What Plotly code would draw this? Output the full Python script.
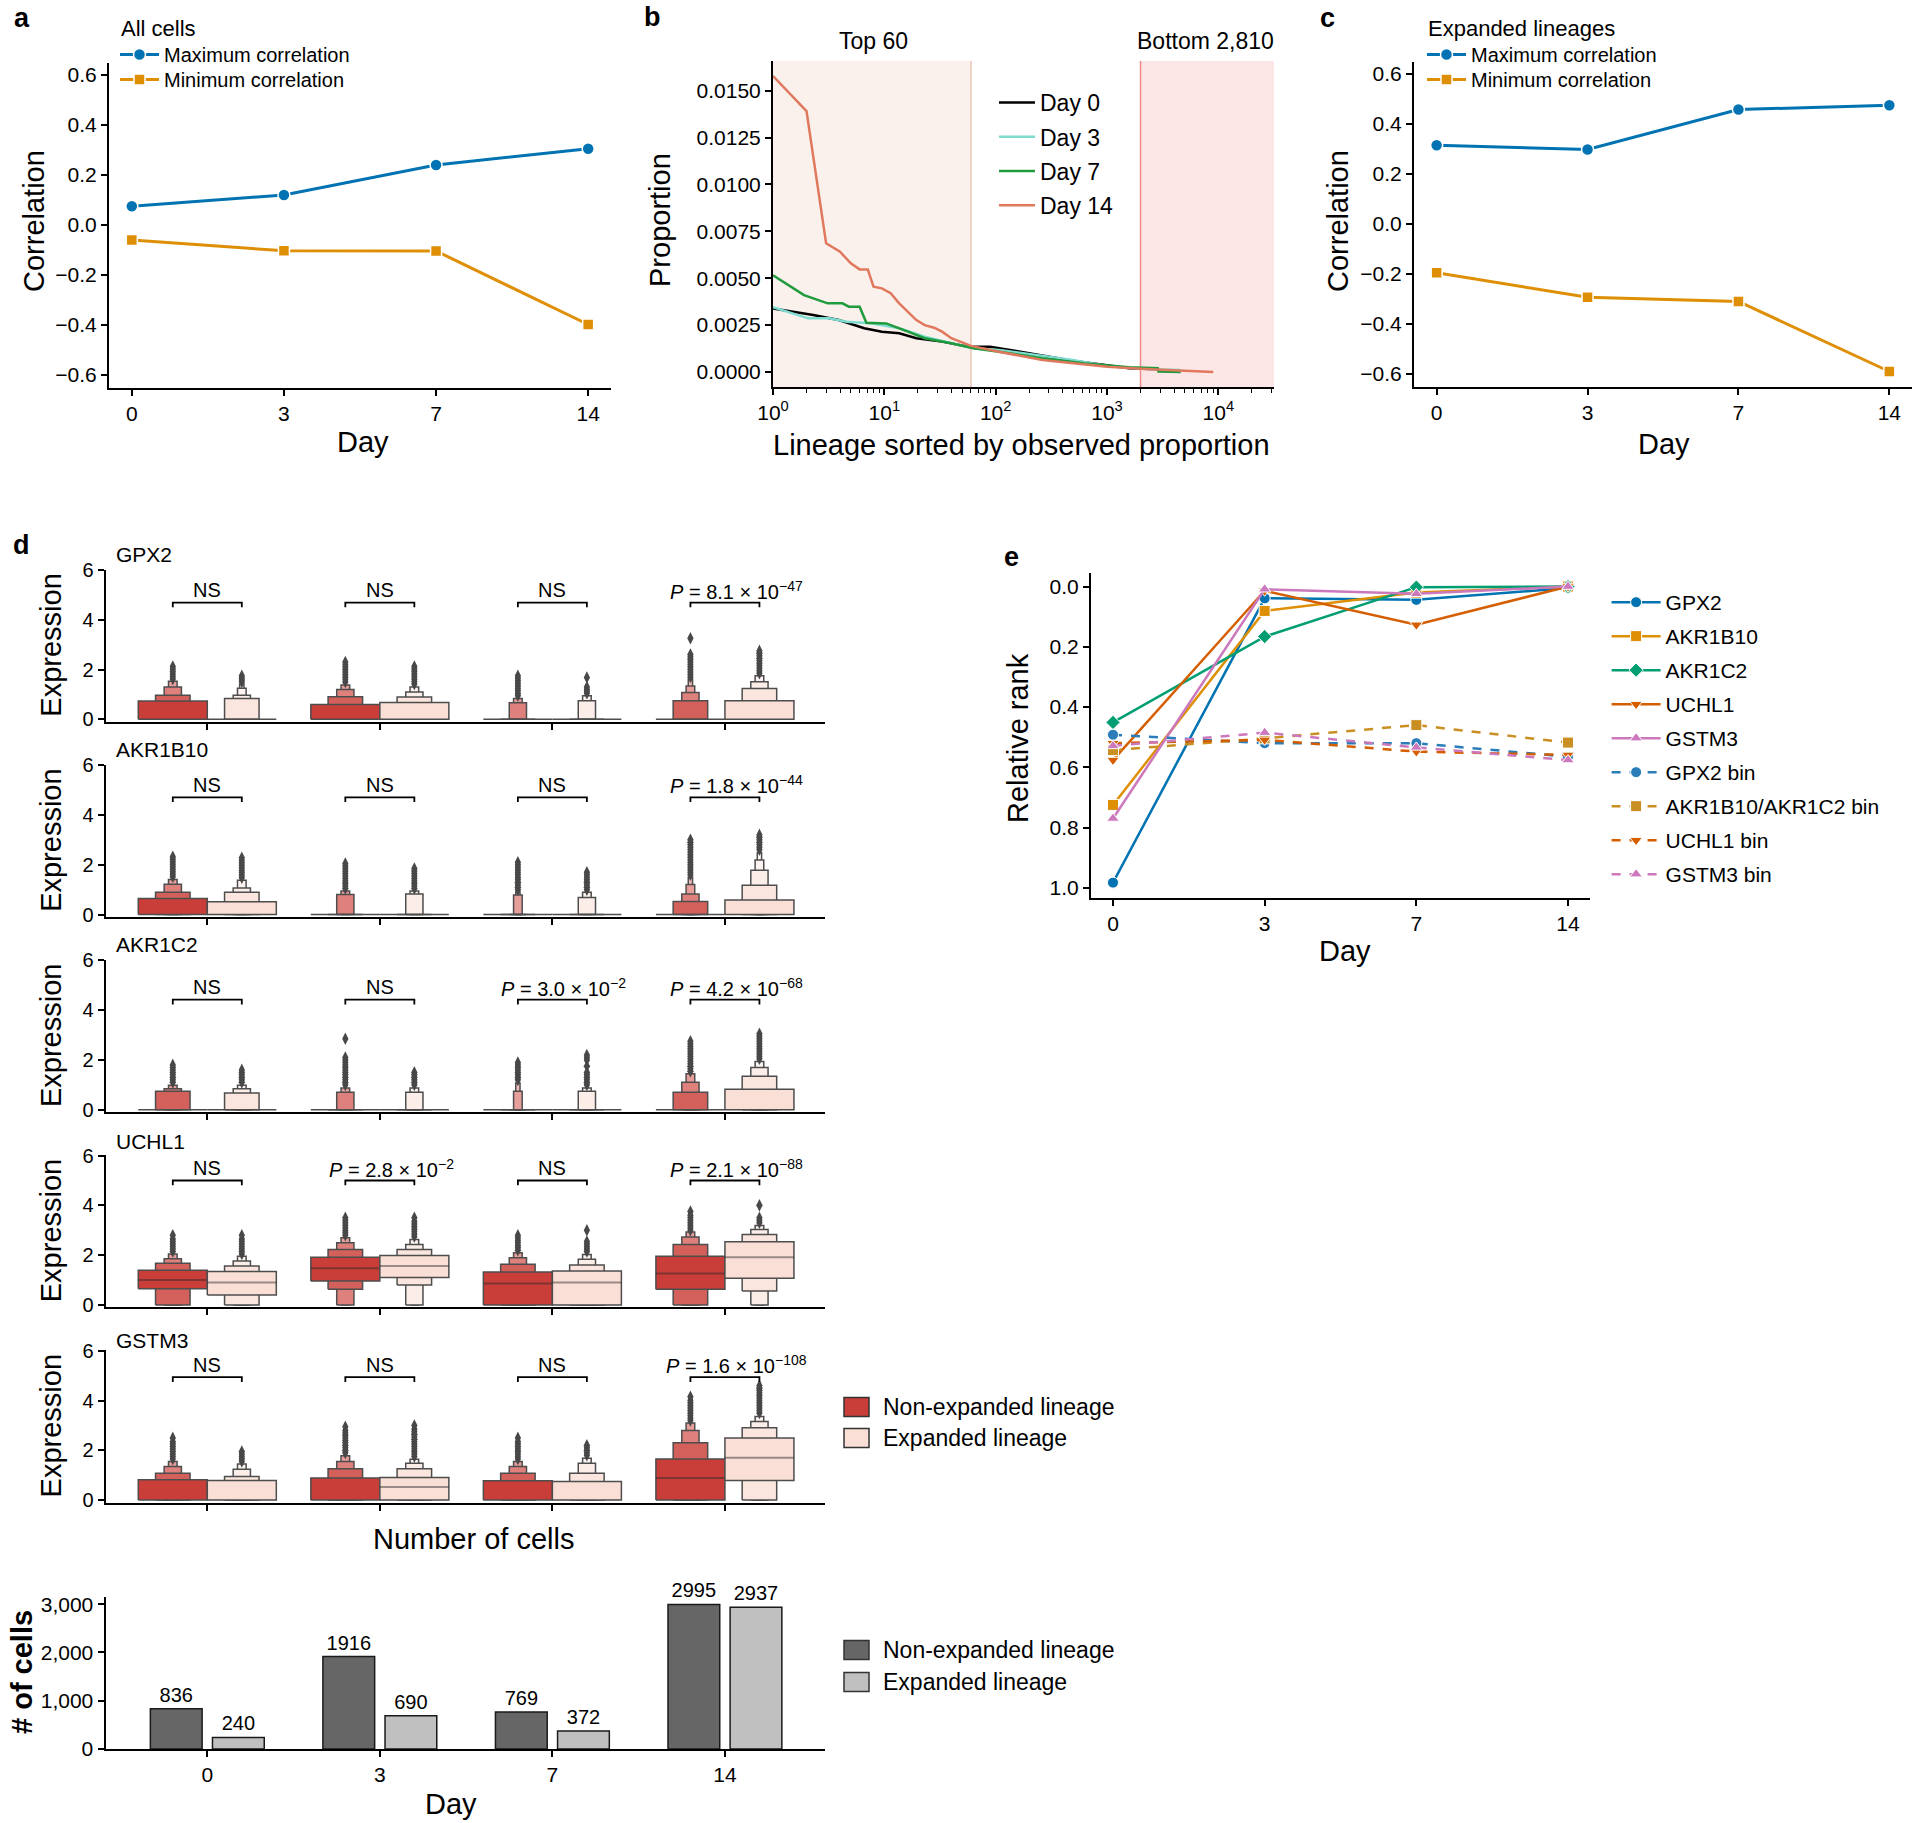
import plotly.graph_objects as go

# the page body margin is removed by a post script, so page pixels == figure pixels
PAGE_OFF = 0
W, H = 1920, 1823
FONT = "Liberation Sans, Arial, Helvetica, sans-serif"


def px(x):
    return (x - PAGE_OFF) / W


def py(y):
    return 1 - (y - PAGE_OFF) / H


def xd(a, b):
    return [px(a), px(b)]


def yd(t, b):
    return [py(b), py(t)]


# ------------------------------------------------------------------ data
days = ["0", "3", "7", "14"]

# panel a (all cells) and c (expanded lineages)
all_max_corr = [0.075, 0.12, 0.24, 0.305]
all_min_corr = [-0.06, -0.103, -0.104, -0.398]
exp_max_corr = [0.315, 0.298, 0.458, 0.475]
exp_min_corr = [-0.195, -0.293, -0.31, -0.59]

# panel b : lineage rank vs observed proportion
day0_rank = [1, 2.3, 3.9, 6.6, 9.5, 13.6, 19.4, 33, 57, 89, 167, 287, 490, 960, 1580, 2860]
day0_prop = [0.00339, 0.00304, 0.00277, 0.00233, 0.00215, 0.00206, 0.0018, 0.00162, 0.00135,
             0.00135, 0.00108, 0.00082, 0.0006, 0.00037, 0.0002, 0.00014]
day3_rank = [1, 2.07, 3.2, 4.6, 7.9, 13.6, 23, 40, 63, 107, 240, 490, 1000, 2460, 4600]
day3_prop = [0.00345, 0.00286, 0.00286, 0.00268, 0.00259, 0.00233, 0.00188, 0.00153, 0.00126,
             0.00117, 0.00091, 0.00064, 0.00032, 0.00014, 0.0001]
day7_rank = [1, 1.9, 3.1, 4.2, 4.8, 6, 6.9, 10.4, 16.3, 23, 40, 63, 107, 263, 640, 1580, 2860, 2900, 4600]
day7_prop = [0.00515, 0.0041, 0.00366, 0.00366, 0.00348, 0.00348, 0.00263, 0.00259, 0.00215, 0.0018,
             0.00153, 0.00126, 0.00108, 0.00073, 0.00046, 0.00025, 0.0002, 0.00002, 0.0]
day14_rank = [1, 2, 3, 4, 5, 6, 7.1, 8, 9.5, 11.4, 13.6, 17, 19.4, 23, 28, 33, 40, 48, 60, 107, 263,
              1000, 2460, 9000]
day14_prop = [0.01578, 0.01391, 0.00686, 0.00641, 0.00579, 0.00547, 0.00547, 0.00455, 0.00446, 0.0042,
              0.00366, 0.00313, 0.00277, 0.0025, 0.00236, 0.00215, 0.0018, 0.00162, 0.00139, 0.00108,
              0.00064, 0.00028, 0.00014, 0.0]
top_cut = 60
bottom_cut = 2000

# panel d : letter-value (boxen) summaries, order d0 non, d0 exp, d3 non, d3 exp, ...
# each box: list of (low, high) from innermost level outwards
genes = ["GPX2", "AKR1B10", "AKR1C2", "UCHL1", "GSTM3"]

GPX2_levels = [
    [(0, 0.74), (0, 0.97), (0, 1.30), (0, 1.53)],
    [(0, 0), (0, 0.84), (0, 0.97), (0, 1.25), (0, 1.42)],
    [(0, 0.60), (0, 0.91), (0, 1.20), (0, 1.38)],
    [(0, 0.68), (0, 0.90), (0, 1.10), (0, 1.30)],
    [(0, 0), (0, 0), (0, 0.67), (0, 0.84)],
    [(0, 0), (0, 0), (0, 0.75), (0, 0.95)],
    [(0, 0), (0, 0.75), (0, 1.08), (0, 1.34), (0, 1.62)],
    [(0, 0.75), (0, 1.24), (0, 1.51), (0, 1.75)],
]
GPX2_medians = [None] * 8
GPX2_outliers = [
    [1.62, 1.72, 1.82, 1.92, 2.02, 2.12],
    [1.5, 1.58, 1.66, 1.75],
    [1.5, 1.6, 1.7, 1.8, 1.9, 2.0, 2.1, 2.2, 2.3],
    [1.42, 1.52, 1.62, 1.72, 1.82, 1.92, 2.02, 2.12],
    [0.95, 1.05, 1.15, 1.25, 1.35, 1.45, 1.55, 1.65, 1.75],
    [1.05, 1.13, 1.21, 1.3, None, 1.68],
    [1.7, 1.8, 1.9, 2.0, 2.1, 2.2, 2.3, 2.4, 2.5, 2.6, None, 3.26],
    [1.85, 1.95, 2.05, 2.15, 2.25, 2.35, 2.45, 2.55, 2.65, 2.75],
]

AKR1B10_levels = [
    [(0, 0.64), (0, 0.89), (0, 1.22), (0, 1.41)],
    [(0, 0.51), (0, 0.89), (0, 1.07), (0, 1.38)],
    [(0, 0), (0, 0), (0, 0.80), (0, 0.94)],
    [(0, 0), (0, 0), (0, 0.82), (0, 0.94)],
    [(0, 0), (0, 0), (0, 0), (0, 0.78), (0, 0.90)],
    [(0, 0), (0, 0), (0, 0.68), (0, 0.89)],
    [(0, 0), (0, 0.52), (0, 0.82), (0, 1.21), (0, 1.50)],
    [(0, 0.58), (0, 1.18), (0, 1.78), (0, 2.19), (0, 2.48)],
]
AKR1B10_medians = [None] * 8
AKR1B10_outliers = [
    [1.52, 1.62, 1.72, 1.82, 1.92, 2.02, 2.12, 2.22, 2.32],
    [1.48, 1.58, 1.68, 1.78, 1.88, 1.98, 2.08, 2.18, 2.28],
    [1.05, 1.15, 1.25, 1.35, 1.45, 1.55, 1.65, 1.75, 1.85, 1.95, 2.05],
    [1.05, 1.15, 1.25, 1.35, 1.45, 1.55, 1.65, 1.75, 1.85],
    [1.0, 1.1, 1.2, 1.3, 1.4, 1.5, 1.6, 1.7, 1.8, 1.9, 2.0, 2.1],
    [1.0, 1.1, 1.2, 1.3, 1.4, 1.5, 1.6, 1.7],
    [1.6, 1.7, 1.8, 1.9, 2.0, 2.1, 2.2, 2.3, 2.4, 2.5, 2.6, 2.7, 2.8, 2.9, 3.0],
    [2.6, 2.7, 2.8, 2.9, 3.0, 3.1, 3.2],
]

AKR1C2_levels = [
    [(0, 0), (0, 0.74), (0, 0.84), (0, 0.98)],
    [(0, 0), (0, 0.67), (0, 0.84), (0, 0.98)],
    [(0, 0), (0, 0), (0, 0.70), (0, 0.87)],
    [(0, 0), (0, 0), (0, 0.70), (0, 0.87)],
    [(0, 0), (0, 0), (0, 0), (0, 0.74), (0, 1.07)],
    [(0, 0), (0, 0), (0, 0.74), (0, 0.87)],
    [(0, 0), (0, 0.70), (0, 1.10), (0, 1.45)],
    [(0, 0.82), (0, 1.34), (0, 1.70), (0, 1.94)],
]
AKR1C2_medians = [None] * 8
AKR1C2_outliers = [
    [1.1, 1.2, 1.3, 1.4, 1.5, 1.6, 1.7, 1.8],
    [1.1, 1.2, 1.3, 1.4, 1.5, 1.6],
    [1.0, 1.1, 1.2, 1.3, 1.4, 1.5, 1.6, 1.7, 1.8, 1.9, 2.0, 2.1, None, 2.85],
    [1.0, 1.1, 1.2, 1.3, 1.4, 1.5],
    [1.2, 1.3, 1.4, 1.5, 1.6, 1.7, 1.8, 1.9],
    [1.0, 1.1, 1.2, 1.3, 1.4, 1.5, None, 1.75, None, 2.0, 2.1, 2.2],
    [1.55, 1.65, 1.75, 1.85, 1.95, 2.05, 2.15, 2.25, 2.35, 2.45, 2.55, 2.65, 2.75],
    [2.05, 2.15, 2.25, 2.35, 2.45, 2.55, 2.65, 2.75, 2.85, 2.95, 3.05],
]

UCHL1_levels = [
    [(0.65, 1.39), (0, 1.67), (0, 1.85), (0, 2.05)],
    [(0.40, 1.34), (0, 1.56), (0, 1.76), (0, 1.96)],
    [(0.96, 1.92), (0.63, 2.23), (0, 2.50), (0, 2.70)],
    [(1.10, 1.99), (0.80, 2.23), (0, 2.43), (0, 2.63)],
    [(0, 1.32), (0, 1.63), (0, 1.90), (0, 2.10)],
    [(0, 1.36), (0, 1.60), (0, 1.83), (0, 2.03)],
    [(0.63, 1.96), (0, 2.43), (0, 2.73), (0, 2.93)],
    [(1.07, 2.54), (0.56, 2.83), (0, 3.03), (0, 3.19)],
]
UCHL1_medians = [1.0, 0.9, 1.47, 1.56, 0.86, 0.9, 1.26, 1.92]
UCHL1_outliers = [
    [2.15, 2.25, 2.35, 2.45, 2.55, 2.65, 2.8],
    [2.05, 2.15, 2.25, 2.35, 2.45, 2.55, 2.65, 2.8],
    [2.8, 2.9, 3.0, 3.1, 3.2, 3.3, 3.4, 3.5],
    [2.75, 2.85, 2.95, 3.05, 3.15, 3.25, 3.35, 3.5],
    [2.2, 2.3, 2.4, 2.5, 2.6, 2.7, 2.8],
    [2.15, 2.25, 2.35, 2.45, 2.55, None, 3.0],
    [3.0, 3.1, 3.2, 3.3, 3.4, 3.5, 3.6, 3.75],
    [3.3, 3.4, 3.5, None, 4.0],
]

GSTM3_levels = [
    [(0, 0.82), (0, 1.08), (0, 1.35), (0, 1.55)],
    [(0, 0.79), (0, 0.95), (0, 1.24), (0, 1.45)],
    [(0, 0.89), (0, 1.26), (0, 1.55), (0, 1.78)],
    [(0, 0.91), (0, 1.26), (0, 1.48), (0, 1.64)],
    [(0, 0.78), (0, 1.08), (0, 1.35), (0, 1.55)],
    [(0, 0.75), (0, 1.08), (0, 1.48), (0, 1.68)],
    [(0, 1.65), (0, 2.30), (0, 2.80), (0, 3.10)],
    [(0.79, 2.50), (0, 2.91), (0, 3.16), (0, 3.36)],
]
GSTM3_medians = [None, None, None, 0.53, None, None, 0.89, 1.70]
GSTM3_outliers = [
    [1.65, 1.75, 1.85, 1.95, 2.05, 2.15, 2.25, 2.35, 2.5],
    [1.55, 1.65, 1.75, 1.85, 1.95],
    [1.9, 2.0, 2.1, 2.2, 2.3, 2.4, 2.5, 2.6, 2.7, 2.8, 2.95],
    [1.75, 1.85, 1.95, 2.05, 2.15, 2.25, 2.35, 2.45, 2.55, 2.65, 2.75, 2.85, 3.0],
    [1.65, 1.75, 1.85, 1.95, 2.05, 2.15, 2.25, 2.35, 2.5],
    [1.8, 1.9, 2.0, 2.1, 2.2],
    [3.2, 3.3, 3.4, 3.5, 3.6, 3.7, 3.8, 3.9, 4.0, 4.15],
    [3.5, 3.6, 3.7, 3.8, 3.9, 4.0, 4.1, 4.2, 4.3, 4.4, 4.5, 4.6],
]

GPX2_p = ["NS", "NS", "NS", "<i>P</i> = 8.1 × 10<sup>−47</sup>"]
AKR1B10_p = ["NS", "NS", "NS", "<i>P</i> = 1.8 × 10<sup>−44</sup>"]
AKR1C2_p = ["NS", "NS", "<i>P</i> = 3.0 × 10<sup>−2</sup>", "<i>P</i> = 4.2 × 10<sup>−68</sup>"]
UCHL1_p = ["NS", "<i>P</i> = 2.8 × 10<sup>−2</sup>", "NS", "<i>P</i> = 2.1 × 10<sup>−88</sup>"]
GSTM3_p = ["NS", "NS", "NS", "<i>P</i> = 1.6 × 10<sup>−108</sup>"]

# number of cells
non_expanded_cells = [836, 1916, 769, 2995]
expanded_cells = [240, 690, 372, 2937]

# panel e : relative rank
rank_series = ["GPX2", "AKR1B10", "AKR1C2", "UCHL1", "GSTM3",
               "GPX2 bin", "AKR1B10/AKR1C2 bin", "UCHL1 bin", "GSTM3 bin"]
rank_GPX2 = [0.983, 0.039, 0.044, 0.005]
rank_AKR1B10 = [0.725, 0.081, 0.02, 0.0]
rank_AKR1C2 = [0.451, 0.166, 0.002, 0.0]
rank_UCHL1 = [0.576, 0.014, 0.127, 0.0]
rank_GSTM3 = [0.77, 0.009, 0.024, 0.0]
rank_GPX2_bin = [0.492, 0.52, 0.52, 0.565]
rank_AKR_bin = [0.543, 0.504, 0.46, 0.518]
rank_UCHL1_bin = [0.52, 0.509, 0.548, 0.559]
rank_GSTM3_bin = [0.529, 0.485, 0.534, 0.576]

# ------------------------------------------------------------------ style
BLUE = "#0173b2"
ORANGE = "#de8f05"
NON_COLORS = ["#c93e39", "#d4605b", "#de807c", "#e89f9c", "#f0bdbb", "#f6d9d8"]
EXP_COLORS = ["#f9dfd5", "#fae6de", "#fbede8", "#fdf4f1", "#fefaf8", "#ffffff"]
EDGE = "#4d4d4d"

fig = go.Figure()


# ---- panels a & c
def corr_panel(maxv, minv, xa, ya, lg1, lg2):
    fig.add_trace(go.Scatter(
        x=days, y=maxv, mode="lines+markers", name="Maximum correlation",
        line=dict(color=BLUE, width=3),
        marker=dict(symbol="circle", size=12, color=BLUE, line=dict(color="white", width=1.5)),
        xaxis=xa, yaxis=ya, legend=lg1))
    fig.add_trace(go.Scatter(
        x=days, y=minv, mode="lines+markers", name="Minimum correlation",
        line=dict(color=ORANGE, width=3),
        marker=dict(symbol="square", size=11, color=ORANGE, line=dict(color="white", width=1.5)),
        xaxis=xa, yaxis=ya, legend=lg2))


corr_panel(all_max_corr, all_min_corr, "x", "y", "legend", "legend2")
corr_panel(exp_max_corr, exp_min_corr, "x3", "y3", "legend3", "legend4")

# ---- panel b
b_series = [("Day 0", day0_rank, day0_prop, "#000000"),
            ("Day 3", day3_rank, day3_prop, "#7ddccf"),
            ("Day 7", day7_rank, day7_prop, "#1f9a3c"),
            ("Day 14", day14_rank, day14_prop, "#e0785e")]
for name, r, p, c in b_series:
    fig.add_trace(go.Scatter(x=r, y=p, mode="lines", name=name, line=dict(color=c, width=2.5),
                             xaxis="x2", yaxis="y2", legend="legend5", legendgroup=name))

# ---- panel d (boxen)
gene_levels = [GPX2_levels, AKR1B10_levels, AKR1C2_levels, UCHL1_levels, GSTM3_levels]
gene_medians = [GPX2_medians, AKR1B10_medians, AKR1C2_medians, UCHL1_medians, GSTM3_medians]
gene_outliers = [GPX2_outliers, AKR1B10_outliers, AKR1C2_outliers, UCHL1_outliers, GSTM3_outliers]
gene_p = [GPX2_p, AKR1B10_p, AKR1C2_p, UCHL1_p, GSTM3_p]
BRACKET_Y = [4.69, 4.71, 4.42, 5.0, 4.94]
BRACKET_TICK = 0.19
GROUP_OFF = 0.2
BOX_W = 0.4
D_TOPS = [569.5, 764.7, 959.9, 1155.1, 1350.3]
D_H = 152.3
GENE_LABEL_DY = [15, 15, 15, 14, 10]

annotations = []

for g, gene in enumerate(genes):
    n = 4 + g
    xa, ya = f"x{n}", f"y{n}"
    for di in range(len(days)):
        for grp in range(2):
            k = di * 2 + grp
            xc = di + (-GROUP_OFF if grp == 0 else GROUP_OFF)
            cols = NON_COLORS if grp == 0 else EXP_COLORS
            lv = gene_levels[g][k]
            for j in reversed(range(len(lv))):
                lo, hi = lv[j]
                w = BOX_W / (2 ** j)
                fig.add_trace(go.Scatter(
                    x=[xc - w / 2, xc + w / 2, xc + w / 2, xc - w / 2, xc - w / 2],
                    y=[lo, lo, hi, hi, lo], mode="lines", fill="toself",
                    fillcolor=cols[min(j, len(cols) - 1)],
                    line=dict(color=EDGE, width=1.5), xaxis=xa, yaxis=ya,
                    showlegend=False, hoverinfo="skip"))
            med = gene_medians[g][k]
            if med is not None:
                fig.add_trace(go.Scatter(
                    x=[xc - BOX_W / 2, xc + BOX_W / 2], y=[med, med], mode="lines",
                    line=dict(color="rgba(38,38,38,0.45)", width=2), xaxis=xa, yaxis=ya,
                    showlegend=False, hoverinfo="skip"))
            outs = gene_outliers[g][k]
            fig.add_trace(go.Scatter(
                x=[xc] * len(outs), y=outs, mode="lines+markers",
                line=dict(color="#484848", width=3),
                marker=dict(symbol="diamond-tall", size=9, color="#484848", line=dict(width=0)),
                xaxis=xa, yaxis=ya, showlegend=False, hoverinfo="skip"))
    # brackets
    bx, by = [], []
    b = BRACKET_Y[g]
    for di in range(len(days)):
        bx += [di - GROUP_OFF, di - GROUP_OFF, di + GROUP_OFF, di + GROUP_OFF, None]
        by += [b - BRACKET_TICK, b, b, b - BRACKET_TICK, None]
        txt = gene_p[g][di]
        annotations.append(dict(
            x=di + (0.065 if txt != "NS" else 0), y=b + 0.5, xref=xa, yref=ya, text=txt,
            showarrow=False, xanchor="center", yanchor="middle",
            font=dict(size=20, color="black", family=FONT)))
    fig.add_trace(go.Scatter(x=bx, y=by, mode="lines", line=dict(color="black", width=1.8),
                             xaxis=xa, yaxis=ya, showlegend=False, hoverinfo="skip"))
    # gene label & y title
    annotations.append(dict(x=px(114), y=py(D_TOPS[g] - GENE_LABEL_DY[g]), xref="paper", yref="paper",
                            text=gene, showarrow=False, xanchor="left", yanchor="middle",
                            font=dict(size=21, color="black", family=FONT)))
    annotations.append(dict(x=px(51), y=py(D_TOPS[g] + D_H / 2), xref="paper", yref="paper",
                            text="Expression", textangle=-90, showarrow=False,
                            xanchor="center", yanchor="middle",
                            font=dict(size=29, color="black", family=FONT)))

# ---- number of cells bar chart
day_idx = list(range(len(days)))
fig.add_trace(go.Bar(
    x=day_idx, y=non_expanded_cells, width=0.30, offset=-0.33,
    marker=dict(color="#666666", line=dict(color="#1a1a1a", width=1.5)),
    text=[str(v) for v in non_expanded_cells], textposition="outside", cliponaxis=False,
    constraintext="none", textfont=dict(size=20, color="black", family=FONT),
    xaxis="x9", yaxis="y9", showlegend=False, hoverinfo="skip"))
fig.add_trace(go.Bar(
    x=day_idx, y=expanded_cells, width=0.30, offset=0.03,
    marker=dict(color="#c0c0c0", line=dict(color="#1a1a1a", width=1.5)),
    text=[str(v) for v in expanded_cells], textposition="outside", cliponaxis=False,
    constraintext="none", textfont=dict(size=20, color="black", family=FONT),
    xaxis="x9", yaxis="y9", showlegend=False, hoverinfo="skip"))

# ---- panel e
e_values = [rank_GPX2, rank_AKR1B10, rank_AKR1C2, rank_UCHL1, rank_GSTM3,
            rank_GPX2_bin, rank_AKR_bin, rank_UCHL1_bin, rank_GSTM3_bin]
e_colors = ["#0173b2", "#de8f05", "#029e73", "#d55e00", "#cc78bc",
            "#2a7db8", "#c98f22", "#d55e00", "#cc78bc"]
e_symbols = ["circle", "square", "diamond", "triangle-down", "triangle-up",
             "circle", "square", "triangle-down", "triangle-up"]
e_dash = ["solid"] * 5 + ["dash"] * 4
for name, vals, c, s, d in zip(rank_series, e_values, e_colors, e_symbols, e_dash):
    fig.add_trace(go.Scatter(
        x=days, y=vals, mode="lines+markers", name=name,
        line=dict(color=c, width=2.5, dash=d),
        marker=dict(symbol=s, size=11, color=c, line=dict(color="white", width=1)),
        xaxis="x10", yaxis="y10", legend="legend6", legendgroup=name))

# ------------------------------------------------------------------ axes
AX = dict(showline=True, linecolor="black", linewidth=2, ticks="outside", ticklen=6,
          tickwidth=1.5, tickcolor="black", showgrid=False, zeroline=False, automargin=False,
          tickfont=dict(size=21, color="black", family=FONT))
layout_axes = {}


def add_axes(n, xdom, ydom, xcfg, ycfg):
    s = "" if n == 1 else str(n)
    xa = dict(AX)
    xa.update(xcfg)
    xa.update(domain=xdom, anchor=f"y{s}")
    ya = dict(AX)
    ya.update(ycfg)
    ya.update(domain=ydom, anchor=f"x{s}")
    layout_axes[f"xaxis{s}"] = xa
    layout_axes[f"yaxis{s}"] = ya


corr_y = dict(range=[-0.652, 0.648], tickvals=[-0.6, -0.4, -0.2, 0, 0.2, 0.4, 0.6], tickformat=".1f")
add_axes(1, xd(109, 611), yd(63, 388), dict(type="category", range=[-0.15, 3.15]), corr_y)
minor_vals = [m * 10 ** e for e in range(0, 5) for m in range(2, 10) if m * 10 ** e < 31000]
add_axes(2, xd(773, 1274), yd(61, 387),
         dict(type="log", range=[0, 4.5], tickmode="array", tickvals=[1, 10, 100, 1000, 10000],
              ticktext=["10<sup>0</sup>", "10<sup>1</sup>", "10<sup>2</sup>", "10<sup>3</sup>",
                        "10<sup>4</sup>"],
              minor=dict(tickmode="array", tickvals=minor_vals, ticks="outside", ticklen=4,
                         tickwidth=1, tickcolor="black", showgrid=False)),
         dict(range=[-0.0008, 0.01658], tickvals=[0, 0.0025, 0.005, 0.0075, 0.01, 0.0125, 0.015],
              tickformat=".4f"))
add_axes(3, xd(1414, 1912), yd(62, 387), dict(type="category", range=[-0.15, 3.15]), corr_y)
for g in range(5):
    add_axes(4 + g, xd(105.5, 825), yd(D_TOPS[g], D_TOPS[g] + D_H),
             dict(range=[-0.59, 3.58], tickvals=day_idx, showticklabels=False),
             dict(range=[-0.1, 6.02], tickvals=[0, 2, 4, 6],
                  tickfont=dict(size=20, color="black", family=FONT)))
add_axes(9, xd(105.5, 825), yd(1597, 1749),
         dict(range=[-0.59, 3.58], tickvals=day_idx, ticktext=days),
         dict(range=[0, 3150], tickvals=[0, 1000, 2000, 3000], tickformat=",d"))
add_axes(10, xd(1091, 1590), yd(572.7, 897.7),
         dict(type="category", range=[-0.145, 3.145]),
         dict(range=[1.033, -0.046], tickvals=[0, 0.2, 0.4, 0.6, 0.8, 1.0], tickformat=".1f"))

# ------------------------------------------------------------------ shapes
shapes = [
    dict(type="rect", xref="x2", yref="y2 domain", x0=1, x1=top_cut, y0=0, y1=1,
         fillcolor="#faf0ec", line=dict(width=0), layer="below"),
    dict(type="line", xref="x2", yref="y2 domain", x0=top_cut, x1=top_cut, y0=0, y1=1,
         line=dict(color="#ebc3b8", width=1.5), layer="below"),
    dict(type="rect", xref="x2", yref="y2 domain", x0=bottom_cut, x1=10 ** 4.5, y0=0, y1=1,
         fillcolor="#fce6e6", line=dict(width=0), layer="below"),
    dict(type="line", xref="x2", yref="y2 domain", x0=bottom_cut, x1=bottom_cut, y0=0, y1=1,
         line=dict(color="#f08a8a", width=1.5), layer="below"),
]
# legend patches for boxen and bar panels
for (yc, col) in [(1407, NON_COLORS[0]), (1438, EXP_COLORS[0]), (1650, "#666666"), (1682, "#c0c0c0")]:
    shapes.append(dict(type="rect", xref="paper", yref="paper", x0=px(844), x1=px(869),
                       y0=py(yc + 9.5), y1=py(yc - 9.5), fillcolor=col,
                       line=dict(color="#333333", width=1.5)))
for (yc, txt) in [(1407, "Non-expanded lineage"), (1438, "Expanded lineage"),
                  (1650, "Non-expanded lineage"), (1682, "Expanded lineage")]:
    annotations.append(dict(x=px(881), y=py(yc), xref="paper", yref="paper", text=txt,
                            showarrow=False, xanchor="left", yanchor="middle",
                            font=dict(size=23, color="black", family=FONT)))


# ------------------------------------------------------------------ text
def ann(x, y, text, size, angle=0, anchor="center", bold=False):
    annotations.append(dict(x=px(x), y=py(y), xref="paper", yref="paper",
                            text=f"<b>{text}</b>" if bold else text, textangle=angle,
                            showarrow=False, xanchor=anchor, yanchor="middle",
                            font=dict(size=size, color="black", family=FONT)))


for lab, x, y in [("a", 22, 18), ("b", 652, 17), ("c", 1327, 18), ("d", 21, 545), ("e", 1011, 557)]:
    ann(x, y, lab, 27, bold=True)
ann(119, 29, "All cells", 22, anchor="left")
ann(1426, 29, "Expanded lineages", 22, anchor="left")
ann(873, 41, "Top 60", 23)
ann(1205, 41, "Bottom 2,810", 23)
ann(34, 221, "Correlation", 29, angle=-90)
ann(363, 442, "Day", 29)
ann(660, 220, "Proportion", 29, angle=-90)
ann(1021, 445, "Lineage sorted by observed proportion", 29)
ann(1338, 221, "Correlation", 29, angle=-90)
ann(1664, 444, "Day", 29)
ann(473, 1539, "Number of cells", 29)
ann(22, 1672, "# of cells", 29, angle=-90, bold=True)
ann(451, 1804, "Day", 29)
ann(1018, 738, "Relative rank", 29, angle=-90)
ann(1345, 951, "Day", 29)

LEG = dict(xanchor="left", yanchor="top", bgcolor="rgba(0,0,0,0)", borderwidth=0, itemclick=False,
           itemdoubleclick=False)
legends = dict(
    legend=dict(LEG, x=px(115), y=py(35), font=dict(size=20, family=FONT, color="black"), itemwidth=39),
    legend2=dict(LEG, x=px(115), y=py(60), font=dict(size=20, family=FONT, color="black"), itemwidth=39),
    legend3=dict(LEG, x=px(1422), y=py(35), font=dict(size=20, family=FONT, color="black"), itemwidth=39),
    legend4=dict(LEG, x=px(1422), y=py(60), font=dict(size=20, family=FONT, color="black"), itemwidth=39),
    legend5=dict(LEG, x=px(994), y=py(81), font=dict(size=23, family=FONT, color="black"), itemwidth=36,
                 tracegroupgap=1.4),
    legend6=dict(LEG, x=px(1606.6), y=py(582), font=dict(size=21, family=FONT, color="black"),
                 itemwidth=49, tracegroupgap=3.7),
)

fig.update_layout(
    width=W, height=H, margin=dict(l=0, r=0, t=0, b=0, pad=0, autoexpand=False),
    paper_bgcolor="white", plot_bgcolor="rgba(0,0,0,0)",
    font=dict(family=FONT, color="black"),
    barmode="overlay", shapes=shapes, annotations=annotations,
    **layout_axes, **legends,
)

fig.write_html("out.html", config={"displayModeBar": False},
               post_script="document.body.style.margin='0px';document.body.style.overflow='hidden';")
